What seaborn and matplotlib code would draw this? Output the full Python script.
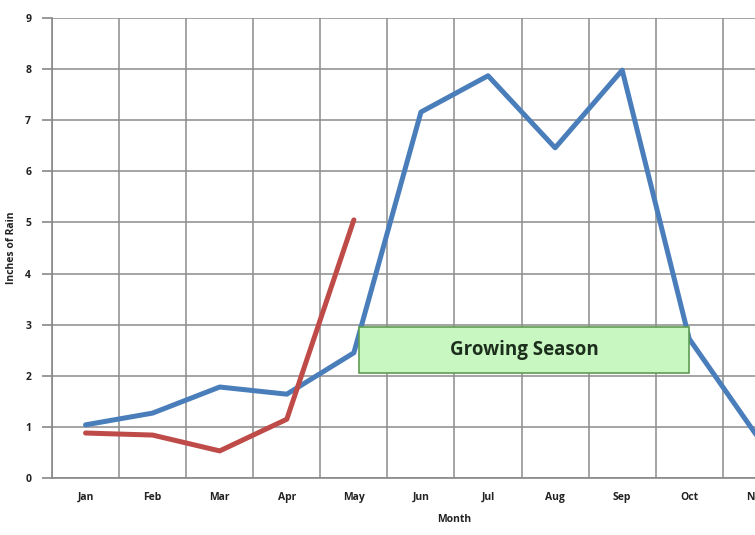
import numpy as np
import pandas as pd
import matplotlib.pyplot as plt
import seaborn as sns
from matplotlib.patches import Rectangle

months = ['Jan', 'Feb', 'Mar', 'Apr', 'May', 'Jun', 'Jul', 'Aug', 'Sep', 'Oct', 'Nov', 'Dec']
avg_rain = [1.04, 1.27, 1.78, 1.64, 2.45, 7.16, 7.87, 6.46, 7.98, 2.72, 0.84, 0.55]
this_year = [0.88, 0.84, 0.53, 1.15, 5.05]

# long format table for seaborn
df = pd.concat([
    pd.DataFrame({'idx': range(len(avg_rain)), 'rain': avg_rain, 'series': 'Average'}),
    pd.DataFrame({'idx': range(len(this_year)), 'rain': this_year, 'series': 'This Year'}),
])

sns.set_style('white')
plt.rcParams['font.family'] = ['Open Sans', 'DejaVu Sans']

fig = plt.figure(figsize=(7.55, 5.35), dpi=100)
ax = fig.add_axes([52 / 755, 57 / 535, 805 / 755, 460 / 535])

sns.lineplot(data=df, x='idx', y='rain', hue='series',
             palette={'Average': '#4a7ebb', 'This Year': '#be4b48'},
             linewidth=3.6, legend=False, ax=ax, zorder=3,
             hue_order=['Average', 'This Year'])

ax.set_xlim(-0.5, 11.5)
ax.set_ylim(0, 9)

# category labels in the middle, grid on the boundaries
ax.set_xticks(np.arange(len(months)))
ax.set_xticklabels(months, fontsize=7.5, fontweight='bold', color='#222222')
ax.set_xticks(np.arange(-0.5, 12, 1), minor=True)
ax.tick_params(axis='x', which='major', length=0, pad=10)
ax.tick_params(axis='x', which='minor', length=7, color='#888888', width=1.2, direction='out')
ax.set_yticks(range(0, 10))
ax.set_yticklabels([str(i) for i in range(10)], fontsize=7.5, fontweight='bold', color='#222222')
ax.tick_params(axis='y', length=7, color='#888888', width=1.2, direction='out', left=True, pad=8)

ax.grid(True, axis='y', which='major', color='#8c8c8c', linewidth=1.1)
ax.grid(True, axis='x', which='minor', color='#8c8c8c', linewidth=1.1)
ax.grid(False, axis='x', which='major')
for side in ['top', 'right']:
    ax.spines[side].set_visible(False)
for side in ['left', 'bottom']:
    ax.spines[side].set_color('#888888')
    ax.spines[side].set_linewidth(1.2)

ax.set_xlabel('Month', fontsize=7.5, fontweight='bold', color='#222222', labelpad=8)
ax.set_ylabel('Inches of Rain', fontsize=7.5, fontweight='bold', color='#222222', labelpad=6)

# growing season box
box = Rectangle((4.07, 2.05), 4.93, 0.9, facecolor='#c8f7c2', edgecolor='#5c9c52',
                linewidth=1.2, zorder=4)
ax.add_patch(box)
ax.text(4.07 + 4.93 / 2, 2.5, 'Growing Season', ha='center', va='center',
        fontsize=13.5, fontweight='bold', color='#1c2e1c', zorder=5)

fig.savefig('out.png', dpi=100)
